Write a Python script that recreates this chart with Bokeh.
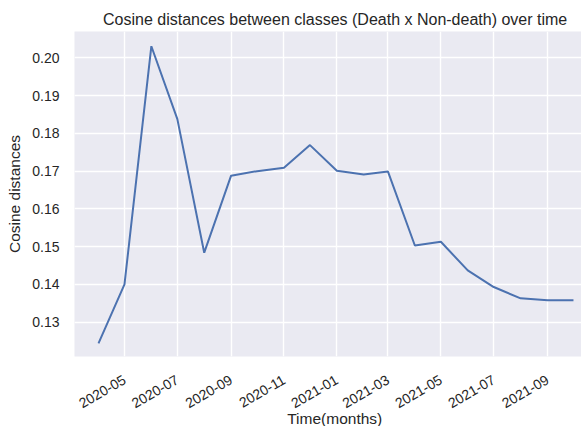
from datetime import datetime
from bokeh.plotting import figure
from bokeh.models import (Range1d, SingleIntervalTicker, MonthsTicker,
                          DatetimeTickFormatter, PrintfTickFormatter, Title)
from bokeh.embed import file_html
from bokeh.resources import INLINE
import math

# ---- data ----
months = ["2020-04", "2020-05", "2020-06", "2020-07", "2020-08", "2020-09",
          "2020-10", "2020-11", "2020-12", "2021-01", "2021-02", "2021-03",
          "2021-04", "2021-05", "2021-06", "2021-07", "2021-08", "2021-09",
          "2021-10"]
cosine_distances = [0.1244, 0.1400, 0.2031, 0.1838, 0.1484, 0.1688,
                    0.1700, 0.1709, 0.1769, 0.1701, 0.1691, 0.1699,
                    0.1503, 0.1513, 0.1437, 0.1393, 0.1363, 0.1358,
                    0.1358]
title_text = "Cosine distances between classes (Death x Non-death) over time"
x_label = "Time(months)"
y_label = "Cosine distances"

dates = [datetime.strptime(m + "-01", "%Y-%m-%d") for m in months]

FONT = "Liberation Sans"
TXT = "#262626"

p = figure(width=581, height=426, output_backend="svg", toolbar_location=None,
           x_axis_type="datetime",
           x_range=Range1d(datetime(2020, 3, 4, 8), datetime(2021, 10, 10, 6)),
           y_range=Range1d(0.1209, 0.2070),
           min_border_left=74, min_border_right=0, min_border_top=31,
           min_border_bottom=70)

p.background_fill_color = "#EAEAF2"
p.border_fill_color = "white"
p.outline_line_color = None

p.line(dates, cosine_distances, line_color="#4C72B0", line_width=2)

# grids
for g in (p.xgrid, p.ygrid):
    g.grid_line_color = "white"
    g.grid_line_width = 1.4

# axes
p.xaxis.ticker = MonthsTicker(months=[0, 2, 4, 6, 8, 10])
p.xaxis.formatter = DatetimeTickFormatter(months="%Y-%m", days="%Y-%m",
                                          years="%Y-%m")
p.yaxis.ticker = SingleIntervalTicker(interval=0.01, num_minor_ticks=0)
p.yaxis.formatter = PrintfTickFormatter(format="%.2f")

for ax in (p.xaxis, p.yaxis):
    ax.axis_line_color = None
    ax.major_tick_line_color = None
    ax.minor_tick_line_color = None
    ax.major_tick_out = 0
    ax.major_tick_in = 0
    ax.minor_tick_out = 0
    ax.minor_tick_in = 0
    ax.major_label_text_font = FONT
    ax.major_label_text_font_size = "14px"
    ax.major_label_text_color = TXT
    ax.axis_label_text_font = FONT
    ax.axis_label_text_font_size = "15.5px"
    ax.axis_label_text_font_style = "normal"
    ax.axis_label_text_color = TXT

p.xaxis.major_label_orientation = math.pi / 6
p.xaxis.major_label_standoff = 22
p.yaxis.major_label_standoff = 15
p.yaxis.axis_label = y_label
p.yaxis.axis_label_standoff = 6

# title (centered on the full, cropped axes -> left aligned with offset)
p.title.text = title_text
p.title.align = "left"
p.title.offset = 28.5
p.title.standoff = 8
p.title.text_font = FONT
p.title.text_font_size = "16px"
p.title.text_font_style = "normal"
p.title.text_color = TXT

# x-axis label as a title below the axis
xl = Title(text=x_label, align="left", offset=212.7, standoff=-23,
           text_font=FONT, text_font_size="15.5px", text_font_style="normal",
           text_color=TXT)
p.add_layout(xl, "below")

open("out.html", "w").write(file_html(p, INLINE))
